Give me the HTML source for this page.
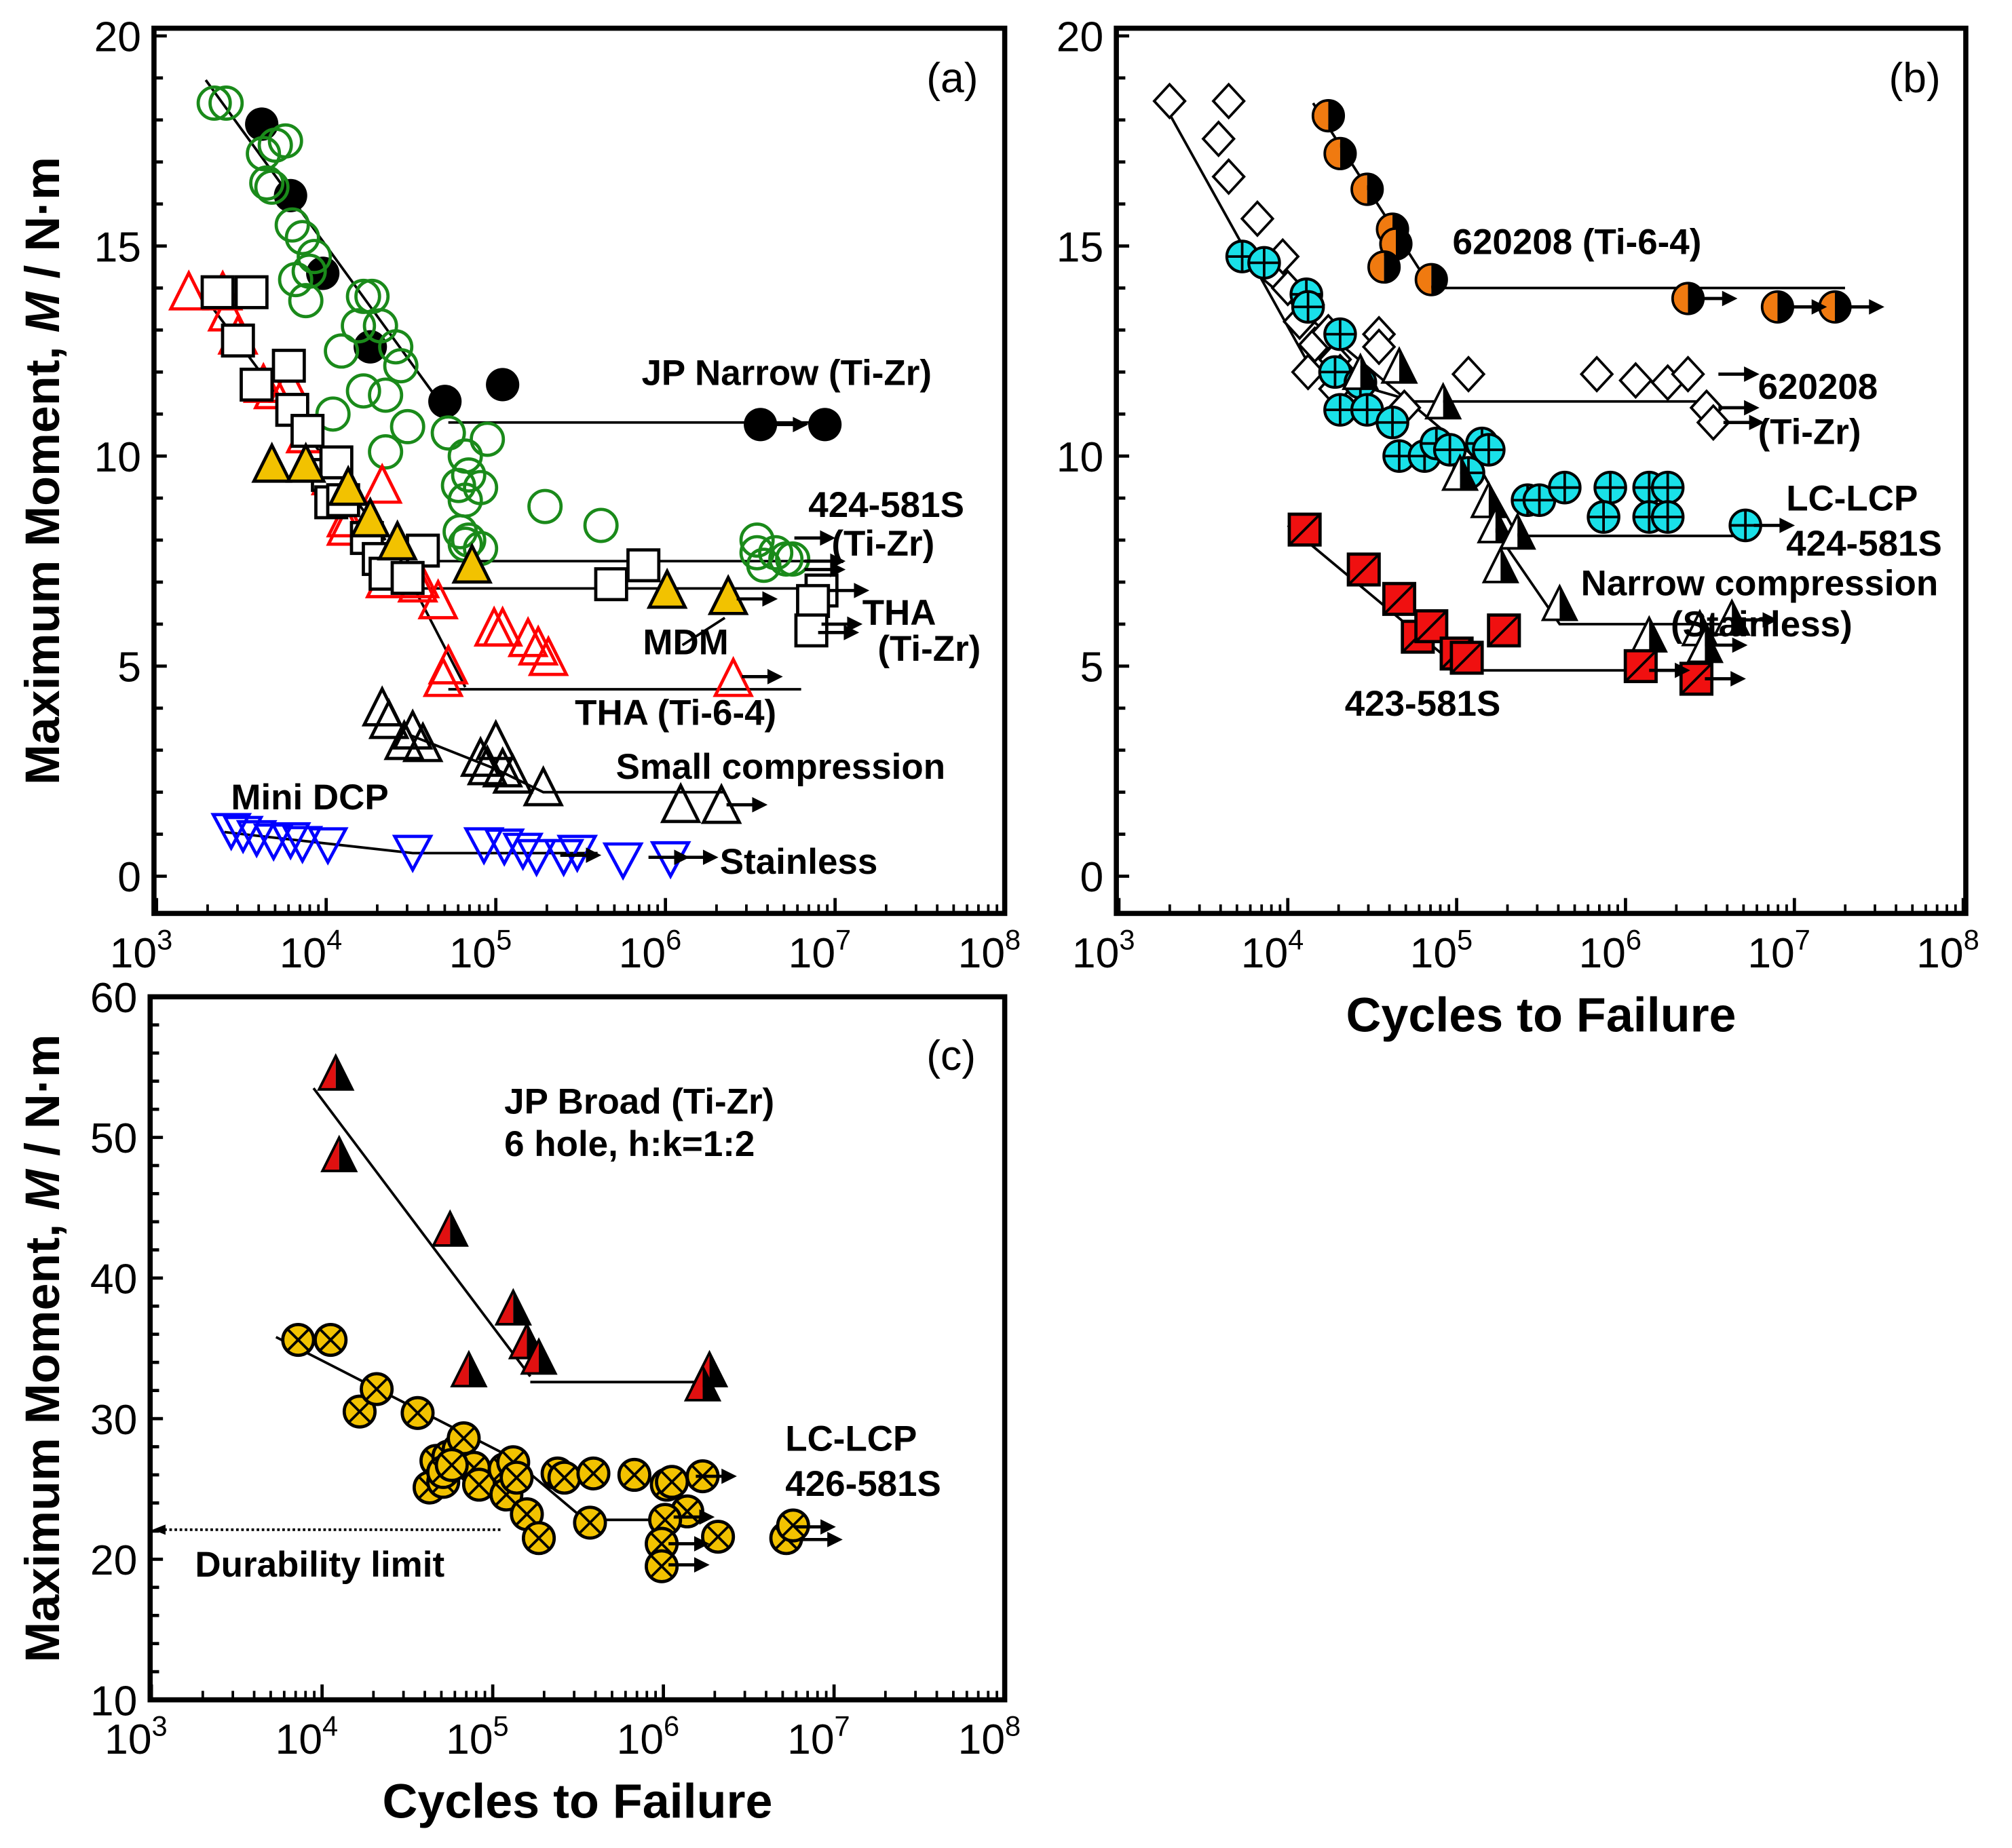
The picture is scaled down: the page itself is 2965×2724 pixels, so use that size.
<!DOCTYPE html>
<html><head><meta charset="utf-8"><style>
html,body{margin:0;padding:0;background:#fff}
svg{display:block}
text{font-family:"Liberation Sans",Arial,sans-serif}
</style></head><body>
<svg id="fig" xmlns="http://www.w3.org/2000/svg" width="2965" height="2724" viewBox="0 0 1568 1440.5" preserveAspectRatio="none">
</svg>
<script>
// ---------- DATA (log10 cycles, moment N·m) ----------
// Panel (a)
const aJPNarrowLx=[3.62,3.79,3.98,4.26,4.70,5.04,6.56,6.94];
const aJPNarrowM=[17.9,16.2,14.35,12.6,11.3,11.7,10.75,10.75];
const aGreenLx=[3.34,3.41,3.63,3.70,3.65,3.76,3.68,3.80,3.86,3.93,3.90,3.82,3.88,4.22,4.27,4.19,4.32,4.09,4.41,4.44,4.22,4.35,4.04,4.35,4.48,4.72,4.82,4.84,4.78,4.91,4.95,4.82,4.79,4.84,4.82,4.91,5.29,5.62,6.54,6.54,6.65,6.71,6.58,6.75];
const aGreenM=[18.4,18.4,17.2,17.4,16.5,17.5,16.4,15.5,15.2,14.75,14.4,14.2,13.7,13.8,13.8,13.1,13.1,12.5,12.6,12.15,11.55,11.45,11.0,10.1,10.7,10.55,10.0,9.55,9.3,9.25,10.4,8.95,8.2,8.0,7.9,7.8,8.8,8.35,8.0,7.7,7.7,7.55,7.4,7.55];
const aRedTriLx=[3.19,3.39,3.42,3.48,3.63,3.78,3.69,3.88,4.03,4.12,4.12,4.33,4.35,4.55,4.54,4.66,4.69,4.72,4.99,5.04,5.19,5.25,5.31,6.40];
const aRedTriM=[13.9,13.9,13.4,12.85,11.7,11.7,11.55,10.5,9.5,8.5,8.3,9.3,7.05,7.05,6.95,6.55,4.7,5.0,5.9,5.9,5.65,5.45,5.2,4.7];
const aSqLx=[3.36,3.56,3.48,3.59,3.78,3.80,3.89,4.01,4.06,4.03,4.10,4.24,4.31,4.35,4.57,4.48,5.68,5.87,6.92,6.87,6.86];
const aSqM=[13.9,13.9,12.75,11.7,12.15,11.1,10.6,9.55,9.85,8.9,8.95,8.05,7.55,7.2,7.75,7.1,6.95,7.4,6.8,6.55,5.85];
const aYelLx=[3.68,3.88,4.13,4.26,4.42,4.86,6.01,6.37];
const aYelM=[9.8,9.8,9.25,8.5,7.95,7.4,6.8,6.65];
const aSmallLx=[4.33,4.37,4.46,4.57,4.51,4.91,5.0,4.95,5.04,5.10,5.28,6.09,6.33];
const aSmallM=[4.0,3.7,3.2,3.15,3.45,2.8,3.2,2.6,2.55,2.4,2.1,1.7,1.68];
const aBlueLx=[3.44,3.51,3.59,3.69,3.79,3.86,4.01,4.51,4.93,5.05,5.16,5.24,5.40,5.48,5.75,6.03];
const aBlueM=[1.07,1.0,0.9,0.82,0.85,0.76,0.73,0.55,0.73,0.7,0.6,0.45,0.45,0.55,0.37,0.4];
// Panel (b)
const bOrLx=[4.24,4.31,4.47,4.62,4.64,4.57,4.85,6.37,6.90,7.24];
const bOrM=[18.1,17.2,16.35,15.4,15.05,14.5,14.2,13.75,13.55,13.55];
const bDiaLx=[3.30,3.65,3.59,3.65,3.82,3.97,4.0,4.12,4.07,4.16,4.24,4.28,4.31,4.54,4.54,4.69,5.07,5.83,6.06,6.25,6.37,6.48,6.52,4.12,4.28];
const bDiaM=[18.45,18.45,17.55,16.65,15.65,14.75,14.0,13.6,13.2,12.65,12.95,12.3,12.0,12.9,12.6,11.15,11.95,11.95,11.8,11.75,11.95,11.15,10.8,12.0,11.6];
const bCyLx=[3.73,3.86,4.11,4.12,4.31,4.28,4.43,4.31,4.47,4.62,4.66,4.81,4.88,4.96,5.15,5.19,5.07,5.42,5.49,5.64,5.91,5.87,6.14,6.25,6.14,6.25,6.71];
const bCyM=[14.75,14.6,13.85,13.55,12.9,12.0,11.75,11.1,11.1,10.8,10.0,10.0,10.3,10.15,10.3,10.15,9.6,8.95,8.95,9.25,9.25,8.55,9.25,9.25,8.55,8.55,8.35];
const bNarLx=[4.43,4.66,4.92,5.02,5.19,5.23,5.26,5.36,5.61,6.14,6.44,6.63,6.47];
const bNarM=[12.0,12.15,11.3,9.6,8.95,8.35,7.4,8.2,6.5,5.75,5.9,6.15,5.5];
const bRedSqLx=[4.10,4.45,4.66,4.77,4.85,5.0,5.06,5.28,6.09,6.42];
const bRedSqM=[8.25,7.3,6.6,5.7,5.95,5.3,5.2,5.85,5.0,4.7];
// Panel (c)
const cTriLx=[4.08,4.10,4.75,5.12,4.86,5.20,5.27,6.27,6.23];
const cTriM=[54.6,48.8,43.5,37.9,33.5,35.5,34.4,33.5,32.5];
const cXLx=[3.86,4.05,4.22,4.32,4.56,4.63,4.67,4.71,4.74,4.80,4.83,4.89,4.92,5.07,5.12,5.08,5.14,5.20,5.27,5.38,5.42,5.57,5.59,5.83,6.02,6.05,6.14,6.01,5.99,5.99,6.32,6.23,6.72,6.76,4.71,4.76];
const cXM=[35.6,35.6,30.5,32.1,30.4,25.1,27.0,25.5,27.3,27.8,28.6,26.5,25.3,26.4,26.9,24.6,25.8,23.2,21.5,26.1,25.8,22.6,26.1,26.0,25.3,25.5,23.4,22.8,21.1,19.5,21.6,25.9,21.5,22.4,26.2,26.7];

// ---------- AXES ----------
const NS="http://www.w3.org/2000/svg";
const svg=document.getElementById('fig');
function el(tag,attrs,parent){const e=document.createElementNS(NS,tag);for(const k in attrs)e.setAttribute(k,attrs[k]);(parent||svg).appendChild(e);return e;}
function txt(s,x,y,size,opts,parent){const t=el('text',Object.assign({x:x,y:y,'font-size':size},opts||{}),parent);t.textContent=s;return t;}

const panels={
 a:{x0:122,x1:783,yTop:28,yBot:683,mMax:20,mMin:0,fx0:120,fx1:783,fy0:22,fy1:712},
 b:{x0:872,x1:1530,yTop:28,yBot:683,mMax:20,mMin:0,fx0:870,fx1:1532,fy0:22,fy1:712},
 c:{x0:118,x1:783,yTop:777,yBot:1325,mMax:60,mMin:10,fx0:117,fx1:783,fy0:777,fy1:1325}
};
function X(p,lx){return p.x0+(lx-3)/5*(p.x1-p.x0);}
function Y(p,m){return p.yBot-(m-p.mMin)/(p.mMax-p.mMin)*(p.yBot-p.yTop);}

function drawAxes(key,yMinor,labelStep,showYTitle,showXTitle){
 const p=panels[key];
 const g=el('g',{});
 
 
 el('rect',{x:p.fx0,y:p.fy0,width:p.fx1-p.fx0,height:p.fy1-p.fy0,fill:'none',stroke:'#000','stroke-width':4},g);
 for(let m=p.mMin;m<=p.mMax+1e-9;m+=yMinor){
  const y=Y(p,m);const major=Math.abs(m/labelStep-Math.round(m/labelStep))<1e-6;
  el('line',{x1:p.fx0,x2:p.fx0+(major?10:7),y1:y,y2:y,stroke:'#000','stroke-width':2.5},g);
  if(major){const t=txt(String(m),p.fx0-10,y+12,33,{'text-anchor':'end'},g);
   }
 }
 for(let d=3;d<=8;d++){
  const x=X(p,d);
  el('line',{x1:x,x2:x,y1:p.fy1,y2:p.fy1-12,stroke:'#000','stroke-width':2.5},g);
  const t=el('text',{x:x-12,y:p.fy1+42,'font-size':33,'text-anchor':'middle'},g);
  
  t.textContent='10';const s=el('tspan',{dy:-14,'font-size':22},t);s.textContent=String(d);
  if(d<8)for(let k=2;k<=9;k++){const xm=X(p,d+Math.log10(k));
   el('line',{x1:xm,x2:xm,y1:p.fy1,y2:p.fy1-7,stroke:'#000','stroke-width':2},g);}
 }
 if(showYTitle){
  const cy=(p.fy0+p.fy1)/2;
  const t=el('text',{x:0,y:0,'font-size':38,'font-weight':'bold','text-anchor':'middle',transform:'translate(46,'+cy+') rotate(-90)'},g);
  
  t.appendChild(document.createTextNode('Maximum Moment, '));
  const i=el('tspan',{'font-style':'italic'},t);i.textContent='M';
  t.appendChild(document.createTextNode(' / N·m'));
 }
 if(showXTitle){
  const t=txt('Cycles to Failure',(p.fx0+p.fx1)/2,p.fy1+92,38,{'font-weight':'bold','text-anchor':'middle'},g);
  
 }
 return g;
}
drawAxes('a',1,5,true,false);
drawAxes('b',1,5,false,true);
drawAxes('c',2,10,true,true);

// ---------- MARKERS ----------
function marker(kind,cx,cy,g){
 const s=2.5;
 if(kind==='circleOpenGreen'){el('circle',{cx:cx,cy:cy,r:12.5,fill:'none',stroke:'#1a8a1a','stroke-width':s},g);}
 else if(kind==='circleBlack'){el('circle',{cx:cx,cy:cy,r:13,fill:'#000'},g);}
 else if(kind==='triRed'||kind==='triBlack'||kind==='triYellow'||kind==='triBlue'){
  const h=26,w=14;let inv=kind==='triBlue';
  const pts=inv?[[cx-w,cy-h/2],[cx+w,cy-h/2],[cx,cy+h/2]]:[[cx,cy-h/2-2],[cx+w,cy+h/2],[cx-w,cy+h/2]];
  const col={triRed:'#f00',triBlack:'#000',triYellow:'#000',triBlue:'#00f'}[kind];
  el('polygon',{points:pts.map(q=>q.join(',')).join(' '),fill:kind==='triYellow'?'#f2c200':'#fff','fill-opacity':kind==='triYellow'?1:0,stroke:col,'stroke-width':s},g);}
 else if(kind==='sq'){el('rect',{x:cx-12,y:cy-12,width:24,height:24,fill:'#fff',stroke:'#000','stroke-width':s},g);}
 else if(kind==='halfCircle'){
  el('path',{d:`M${cx},${cy-12} A12,12 0 0 0 ${cx},${cy+12}Z`,fill:'#f07a10'},g);
  el('path',{d:`M${cx},${cy-12} A12,12 0 0 1 ${cx},${cy+12}Z`,fill:'#000'},g);
  el('circle',{cx:cx,cy:cy,r:12,fill:'none',stroke:'#000','stroke-width':2},g);}
 else if(kind==='diamond'){el('polygon',{points:`${cx},${cy-13} ${cx+12},${cy} ${cx},${cy+13} ${cx-12},${cy}`,fill:'#fff',stroke:'#000','stroke-width':2},g);}
 else if(kind==='cyan'){el('circle',{cx:cx,cy:cy,r:12,fill:'#19e0e8',stroke:'#000','stroke-width':2.2},g);
  el('path',{d:`M${cx-12},${cy}H${cx+12}M${cx},${cy-12}V${cy+12}`,stroke:'#000','stroke-width':2},g);}
 else if(kind==='halfTriWB'||kind==='halfTriRB'){
  const h=26,w=13;
  el('polygon',{points:`${cx},${cy-h/2} ${cx},${cy+h/2} ${cx-w},${cy+h/2}`,fill:kind==='halfTriWB'?'#fff':'#e01010'},g);
  el('polygon',{points:`${cx},${cy-h/2} ${cx+w},${cy+h/2} ${cx},${cy+h/2}`,fill:'#000'},g);
  el('polygon',{points:`${cx},${cy-h/2} ${cx+w},${cy+h/2} ${cx-w},${cy+h/2}`,fill:'none',stroke:'#000','stroke-width':2},g);}
 else if(kind==='redSq'){el('rect',{x:cx-12,y:cy-12,width:24,height:24,fill:'#f01010',stroke:'#000','stroke-width':2.5},g);
  el('line',{x1:cx-12,y1:cy+12,x2:cx+12,y2:cy-12,stroke:'#000','stroke-width':2},g);}
 else if(kind==='xCircle'){el('circle',{cx:cx,cy:cy,r:12,fill:'#f2c200',stroke:'#000','stroke-width':2.5},g);
  const d=8;el('path',{d:`M${cx-d},${cy-d}L${cx+d},${cy+d}M${cx-d},${cy+d}L${cx+d},${cy-d}`,stroke:'#000','stroke-width':2},g);}
}
function series(key,name,kind,lx,m){
 const p=panels[key];const g=el('g',{});
 
 
 for(let i=0;i<lx.length;i++){const mk=el('g',{},g);
  
  
  marker(kind,X(p,lx[i]),Y(p,m[i]),mk);}
}
function poly(key,pts){const p=panels[key];
 const l=el('polyline',{points:pts.map(q=>X(p,q[0])+','+Y(p,q[1])).join(' '),fill:'none',stroke:'#000','stroke-width':2});
 }
function arrow(key,lx,m){const p=panels[key];const x=X(p,lx),y=Y(p,m);
 const g=el('g',{});
 el('line',{x1:x,y1:y,x2:x+22,y2:y,stroke:'#000','stroke-width':2.5},g);
 el('polygon',{points:`${x+20},${y-6} ${x+32},${y} ${x+20},${y+6}`,fill:'#000'},g);}

poly('a',[[3.29,18.95],[4.72,11.0]]);poly('a',[[4.72,10.8],[6.9,10.8]]);
poly('a',[[3.28,13.8],[4.35,8.0]]);poly('a',[[4.6,7.5],[6.85,7.5]]);poly('a',[[4.3,6.85],[6.9,6.85]]);
poly('a',[[4.5,7.0],[4.82,4.5]]);poly('a',[[4.72,4.45],[6.8,4.45]]);
poly('a',[[4.5,3.35],[5.0,2.55],[5.28,2.0],[6.35,2.0]]);
poly('a',[[3.4,1.05],[4.51,0.55],[5.6,0.55]]);
poly('a',[[6.1,5.5],[6.35,6.15]]);
poly('b',[[4.15,18.4],[4.85,14.0]]);poly('b',[[4.85,14.0],[7.3,14.0]]);
poly('b',[[3.25,18.5],[4.15,12.0],[4.75,11.3]]);poly('b',[[4.75,11.3],[6.5,11.3]]);
poly('b',[[3.65,14.9],[5.1,10.0],[5.36,8.1]]);poly('b',[[5.36,8.1],[6.71,8.1]]);
poly('b',[[5.2,8.4],[5.61,6.0],[6.65,6.0]]);
poly('b',[[4.0,8.35],[5.0,5.0]]);poly('b',[[5.0,4.9],[6.3,4.9]]);
poly('c',[[3.95,53.5],[5.22,33.0]]);poly('c',[[5.22,32.6],[6.25,32.6]]);
poly('c',[[3.73,35.8],[5.10,27.3],[5.54,22.8],[6.14,22.8]]);

series('a','jp-narrow-ti-zr','circleBlack',aJPNarrowLx,aJPNarrowM);
series('a','green-open-circles','circleOpenGreen',aGreenLx,aGreenM);
series('a','tha-ti-6-4-triangles','triRed',aRedTriLx,aRedTriM);
series('a','open-squares','sq',aSqLx,aSqM);
series('a','mdm-triangles','triYellow',aYelLx,aYelM);
series('a','small-compression-triangles','triBlack',aSmallLx,aSmallM);
series('a','mini-dcp-stainless','triBlue',aBlueLx,aBlueM);
series('b','620208-ti-zr-diamonds','diamond',bDiaLx,bDiaM);
series('b','620208-ti-6-4-circles','halfCircle',bOrLx,bOrM);
series('b','lc-lcp-424-581s','cyan',bCyLx,bCyM);
series('b','narrow-compression-stainless','halfTriWB',bNarLx,bNarM);
series('b','423-581s-squares','redSq',bRedSqLx,bRedSqM);
series('c','jp-broad-ti-zr','halfTriRB',cTriLx,cTriM);
series('c','lc-lcp-426-581s','xCircle',cXLx,cXM);

[[6.60,10.75],[6.76,8.05],[6.82,7.5],[6.82,7.3],[6.96,6.8],[6.42,6.6],[6.92,6.0],[6.90,5.8],[6.45,4.75],[6.36,1.7],[5.38,0.5],[5.9,0.45],[6.07,0.45]].forEach(a=>arrow('a',a[0],a[1]));
[[6.42,13.75],[6.95,13.55],[7.29,13.55],[6.55,11.95],[6.55,11.15],[6.58,10.8],[6.76,8.35],[6.66,6.1],[6.48,5.5],[6.14,4.9],[6.47,4.7]].forEach(a=>arrow('b',a[0],a[1]));
[[6.19,25.9],[6.06,23.0],[6.03,21.1],[6.03,19.6],[6.77,22.3],[6.81,21.4]].forEach(a=>arrow('c',a[0],a[1]));

(function(){const p=panels.c;const y=Y(p,22.1);const g=el('g',{});
 
 el('line',{x1:128,x2:X(p,5.05),y1:y,y2:y,stroke:'#000','stroke-width':2,'stroke-dasharray':'2,2'},g);
 el('polygon',{points:`119,${y} 129,${y-4} 129,${y+4}`,fill:'#000'},g);})();

const ann=[
 ['(a)',722,72,33,false,'panel-a-label'],['(b)',1472,72,33,false,'panel-b-label'],['(c)',722,834,33,false,'panel-c-label'],
 ['JP Narrow (Ti-Zr)',500,300,28,true,'label-jp-narrow'],['424-581S',630,403,28,true,'label-424-581s'],['(Ti-Zr)',648,433,28,true,'label-424-ti-zr'],
 ['THA',672,487,28,true,'label-tha'],['(Ti-Zr)',684,515,28,true,'label-tha-ti-zr'],['MDM',501,510,28,true,'label-mdm'],
 ['THA (Ti-6-4)',448,565,28,true,'label-tha-ti64'],['Small compression',480,607,28,true,'label-small-compression'],
 ['Mini DCP',180,631,28,true,'label-mini-dcp'],['Stainless',561,681,28,true,'label-stainless'],
 ['620208 (Ti-6-4)',1132,198,28,true,'label-620208-ti64'],['620208',1370,311,28,true,'label-620208'],['(Ti-Zr)',1370,346,28,true,'label-620208-ti-zr'],
 ['LC-LCP',1392,398,28,true,'label-lc-lcp-b'],['424-581S',1392,433,28,true,'label-424-581s-b'],
 ['Narrow compression',1232,464,28,true,'label-narrow-compression'],['(Stainless)',1302,496,28,true,'label-stainless-b'],
 ['423-581S',1048,558,28,true,'label-423-581s'],
 ['JP Broad (Ti-Zr)',393,868,28,true,'label-jp-broad'],['6 hole, h:k=1:2',393,901,28,true,'label-6-hole'],
 ['LC-LCP',612,1131,28,true,'label-lc-lcp-c'],['426-581S',612,1166,28,true,'label-426-581s'],
 ['Durability limit',152,1229,28,true,'label-durability-limit']
];
ann.forEach(a=>{const t=txt(a[0],a[1],a[2],a[3],a[4]?{'font-weight':'bold'}:{});
 });
</script>
</body></html>
